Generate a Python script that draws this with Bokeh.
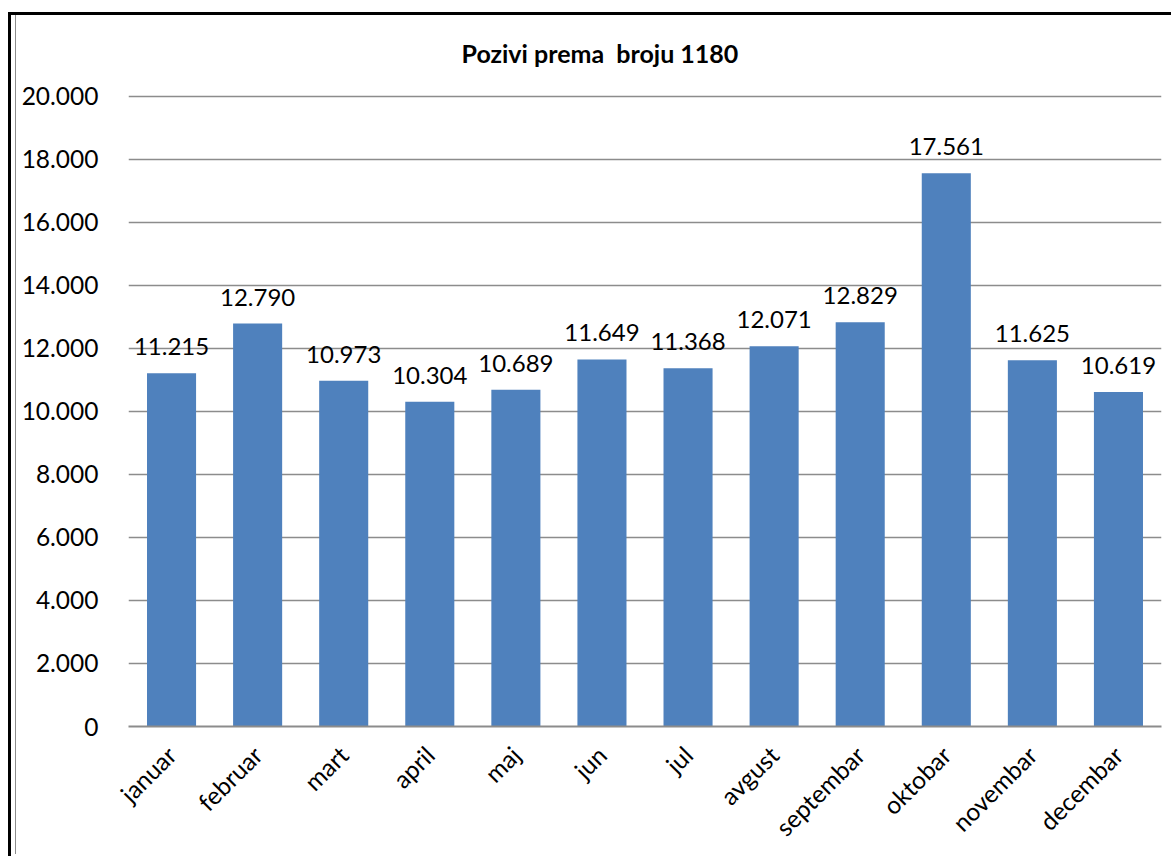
from bokeh.plotting import figure
from bokeh.models import FactorRange, Range1d, FixedTicker, ColumnDataSource, Title
from bokeh.core.properties import value
from bokeh.embed import file_html
from bokeh.resources import INLINE
from math import pi

# Monthly call counts to the 1180 number
months = ["januar", "februar", "mart", "april", "maj", "jun", "jul",
          "avgust", "septembar", "oktobar", "novembar", "decembar"]
calls = [11215, 12790, 10973, 10304, 10689, 11649, 11368,
         12071, 12829, 17561, 11625, 10619]

y_ticks = [0, 2000, 4000, 6000, 8000, 10000, 12000, 14000, 16000, 18000, 20000]
y_tick_labels = ["0", "2.000", "4.000", "6.000", "8.000", "10.000", "12.000",
                 "14.000", "16.000", "18.000", "20.000"]

FONT = "Lato"
GRID = "#8c8c8c"
BAR = "#4f81bd"


def dotted(v):
    return f"{v:,}".replace(",", ".")


source = ColumnDataSource(data=dict(
    month=months,
    calls=calls,
    label=[dotted(v) for v in calls],
))

p = figure(
    x_range=FactorRange(factors=months),
    y_range=Range1d(0, 20060),
    width=1156, height=845,
    output_backend="svg", toolbar_location=None,
    min_border_left=113, min_border_right=10,
    min_border_top=85, min_border_bottom=128,
)
# transparent surround so the frame rules drawn in CSS show through
p.border_fill_color = None

# non-breaking space keeps the doubled gap in the heading
p.title = Title(text="Pozivi prema\u00a0 broju 1180", align="left", offset=333,
                standoff=53,
                text_font=FONT, text_font_size="25px", text_font_style="bold",
                text_color="black")

p.vbar(x="month", top="calls", width=0.57, source=source,
       fill_color=BAR, line_color=None)

p.text(x="month", y="calls", text="label", source=source,
       text_align="center", text_baseline="bottom", y_offset=-18,
       text_font=value(FONT), text_font_size="24px", text_color="black")

# axes and grid
p.outline_line_color = None
p.xgrid.visible = False
p.ygrid.grid_line_color = GRID
p.ygrid.grid_line_width = 1.5
p.yaxis.ticker = FixedTicker(ticks=y_ticks)
p.yaxis.major_label_overrides = {t: s for t, s in zip(y_ticks, y_tick_labels)}
p.yaxis.axis_line_color = None
p.yaxis.major_tick_line_color = None
p.yaxis.minor_tick_line_color = None
p.yaxis.major_label_standoff = 24

p.xaxis.axis_line_color = GRID
p.xaxis.axis_line_width = 2
p.xaxis.major_tick_line_color = None
p.xaxis.minor_tick_line_color = None
p.xaxis.major_label_orientation = pi / 4
p.xaxis.major_label_standoff = 18

for ax in (p.xaxis[0], p.yaxis[0]):
    ax.major_label_text_font = FONT
    ax.major_label_text_color = "black"
p.yaxis.major_label_text_font_size = "24.5px"
p.xaxis.major_label_text_font_size = "24.5px"

# chart-area frame: black top rule, black outer rule on the left and a thin
# grey inner rule beside it
p.styles = {
    "margin-left": "15px",
    "margin-top": "9px",
    "background": "white",
    "box-shadow": ("inset 0 3px 0 0 white, inset 0 6px 0 0 black, "
                   "inset 1px 0 0 0 #8c8c8c, "
                   "-4px 6px 0 0 white, -7px 3px 0 0 black"),
}

open("out.html", "w").write(file_html(p, INLINE))
